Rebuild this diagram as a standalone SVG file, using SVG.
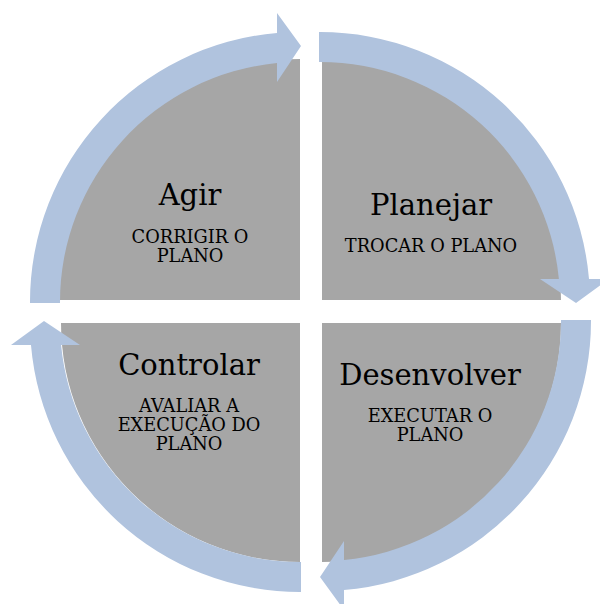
<svg xmlns="http://www.w3.org/2000/svg" width="600" height="604" viewBox="0 0 600 604">
  <style>
    .sector { fill: #a6a6a6; }
    .arrow { fill: #b0c3de; }
    .title { font-family: "DejaVu Serif", "Liberation Serif", serif; font-size: 29px; fill: #000; text-anchor: middle; }
    .sub { font-family: "DejaVu Serif", "Liberation Serif", serif; font-size: 17.8px; fill: #000; text-anchor: middle; }
  </style>
  <defs>
    <path id="arc-arrow" d="M -270,1 L -270,0 A 270 270 0 0 1 -23,-269.02 L -23,-289 L 1,-256 L -23,-220 L -23,-238.9 A 240 240 0 0 0 -240,0 L -240,1 Z"/>
  </defs>
  <rect width="600" height="604" fill="#ffffff"/>
  <g id="agir">
    <path class="sector" d="M300,300 L59,300 A241 241 0 0 1 300,59 Z"/>
  </g>
  <g id="planejar">
    <path class="sector" d="M322,300 L322,61 A239 239 0 0 1 561,300 Z"/>
  </g>
  <g id="desenvolver">
    <path class="sector" d="M322,323 L561,323 A239 239 0 0 1 322,562 Z"/>
  </g>
  <g id="controlar">
    <path class="sector" d="M300,323 L300,562 A239 239 0 0 1 61,323 Z"/>
  </g>
  <g id="connectors">
    <use href="#arc-arrow" class="arrow" transform="translate(300,302)"/>
    <use href="#arc-arrow" class="arrow" transform="translate(320,302) rotate(90)"/>
    <use href="#arc-arrow" class="arrow" transform="translate(321,321) rotate(180)"/>
    <use href="#arc-arrow" class="arrow" transform="translate(300,322) rotate(270)"/>
  </g>
  <g id="agir-text">
    <text class="title" x="190" y="205">Agir</text>
    <text class="sub" x="190" y="243">CORRIGIR O</text>
    <text class="sub" x="190" y="262">PLANO</text>
  </g>
  <g id="planejar-text">
    <text class="title" x="431" y="215">Planejar</text>
    <text class="sub" x="431" y="252">TROCAR O PLANO</text>
  </g>
  <g id="controlar-text">
    <text class="title" x="189" y="375">Controlar</text>
    <text class="sub" x="189" y="412">AVALIAR A</text>
    <text class="sub" x="189" y="431">EXECUÇÃO DO</text>
    <text class="sub" x="189" y="450">PLANO</text>
  </g>
  <g id="desenvolver-text">
    <text class="title" x="430" y="385">Desenvolver</text>
    <text class="sub" x="430" y="422">EXECUTAR O</text>
    <text class="sub" x="430" y="441">PLANO</text>
  </g>
</svg>
